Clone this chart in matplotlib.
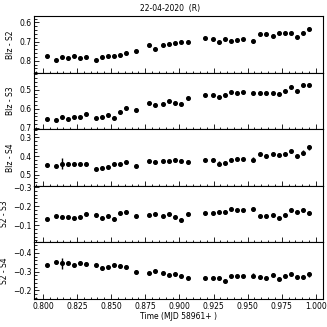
import matplotlib.pyplot as plt
from matplotlib.ticker import MultipleLocator

# time offsets (MJD 58961+)
t = [0.8029, 0.8093, 0.8137, 0.8181, 0.8225, 0.8269, 0.8313, 0.8386, 0.8430, 0.8474,
     0.8520, 0.8562, 0.8606, 0.8681, 0.8774, 0.8818, 0.8879, 0.8925, 0.8969, 0.9013,
     0.9060, 0.9187, 0.9245, 0.9289, 0.9333, 0.9377, 0.9421, 0.9465, 0.9541, 0.9592,
     0.9636, 0.9683, 0.9726, 0.9770, 0.9814, 0.9858, 0.9905, 0.9949]

blz_s2 = [0.777, 0.798, 0.782, 0.788, 0.774, 0.784, 0.779, 0.798, 0.781, 0.777,
          0.774, 0.772, 0.758, 0.751, 0.718, 0.737, 0.719, 0.712, 0.709, 0.700,
          0.700, 0.684, 0.688, 0.705, 0.689, 0.695, 0.691, 0.688, 0.698, 0.660,
          0.663, 0.670, 0.656, 0.658, 0.658, 0.675, 0.653, 0.635]
blz_s3 = [0.652, 0.659, 0.643, 0.654, 0.643, 0.645, 0.626, 0.650, 0.645, 0.633,
          0.647, 0.615, 0.596, 0.606, 0.569, 0.580, 0.576, 0.560, 0.569, 0.574,
          0.546, 0.528, 0.530, 0.539, 0.527, 0.514, 0.518, 0.514, 0.519, 0.519,
          0.519, 0.519, 0.523, 0.509, 0.484, 0.507, 0.475, 0.473]
blz_s4 = [0.447, 0.452, 0.441, 0.443, 0.443, 0.440, 0.440, 0.467, 0.462, 0.457,
          0.440, 0.445, 0.433, 0.452, 0.426, 0.434, 0.426, 0.429, 0.421, 0.424,
          0.431, 0.419, 0.422, 0.441, 0.436, 0.422, 0.416, 0.414, 0.419, 0.390,
          0.400, 0.388, 0.395, 0.388, 0.374, 0.402, 0.381, 0.353]
s2_s3 = [-0.130, -0.146, -0.144, -0.141, -0.135, -0.144, -0.160, -0.153, -0.139, -0.148,
         -0.132, -0.164, -0.168, -0.148, -0.155, -0.160, -0.146, -0.157, -0.142, -0.128,
         -0.159, -0.162, -0.162, -0.171, -0.168, -0.186, -0.177, -0.178, -0.184, -0.146,
         -0.148, -0.151, -0.135, -0.153, -0.180, -0.171, -0.180, -0.164]
s2_s4 = [-0.334, -0.350, -0.344, -0.348, -0.334, -0.348, -0.341, -0.334, -0.319, -0.323,
         -0.337, -0.330, -0.327, -0.300, -0.291, -0.302, -0.295, -0.284, -0.288, -0.275,
         -0.268, -0.268, -0.268, -0.265, -0.252, -0.275, -0.275, -0.275, -0.279, -0.270,
         -0.265, -0.284, -0.261, -0.277, -0.286, -0.272, -0.272, -0.286]

err_std = [0.009] * 38
err_big = [0.009, 0.009, 0.030, 0.009, 0.009, 0.009, 0.009, 0.009, 0.009, 0.009,
           0.009, 0.009, 0.009, 0.009, 0.009, 0.009, 0.009, 0.009, 0.009, 0.009,
           0.009, 0.009, 0.009, 0.012, 0.009, 0.009, 0.009, 0.009, 0.012, 0.009,
           0.012, 0.009, 0.009, 0.009, 0.009, 0.009, 0.012, 0.013]

series = [blz_s2, blz_s3, blz_s4, s2_s3, s2_s4]
errors = [err_std, err_std, err_big, err_std, err_big]
labels = ["Blz - S2", "Blz - S3", "Blz - S4", "S2 - S3", "S2 - S4"]
ylims = [(0.862, 0.567), (0.707, 0.410), (0.559, 0.256), (-0.010, -0.307), (-0.155, -0.456)]

fig, axes = plt.subplots(5, 1, sharex=True, figsize=(3.27, 3.27), dpi=100)
fig.subplots_adjust(left=0.104, right=0.987, top=0.951, bottom=0.086, hspace=0)

for ax, y, e, lab, yl in zip(axes, series, errors, labels, ylims):
    ax.errorbar(t, y, yerr=e, fmt='o', color='black', ms=2.6, elinewidth=1.0, capsize=0)
    ax.set_ylim(*yl)
    ax.set_ylabel(lab, fontsize=5.5, labelpad=3)
    ax.yaxis.set_major_locator(MultipleLocator(0.1))
    ax.yaxis.set_minor_locator(MultipleLocator(0.02))
    ax.xaxis.set_major_locator(MultipleLocator(0.025))
    ax.xaxis.set_minor_locator(MultipleLocator(0.005))
    ax.tick_params(which='both', direction='in', labelsize=5.5, width=0.6, pad=2)
    ax.tick_params(which='major', length=3.5)
    ax.tick_params(which='minor', length=1.8)
    for s in ax.spines.values():
        s.set_linewidth(0.8)

axes[-1].set_xlim(0.7935, 1.005)
axes[-1].set_xlabel("Time (MJD 58961+ )", fontsize=5.5, labelpad=1)
fig.text(0.52, 0.975, "22-04-2020  (R)", fontsize=5.5, ha='center', va='center')

fig.savefig("out.png", dpi=100)
